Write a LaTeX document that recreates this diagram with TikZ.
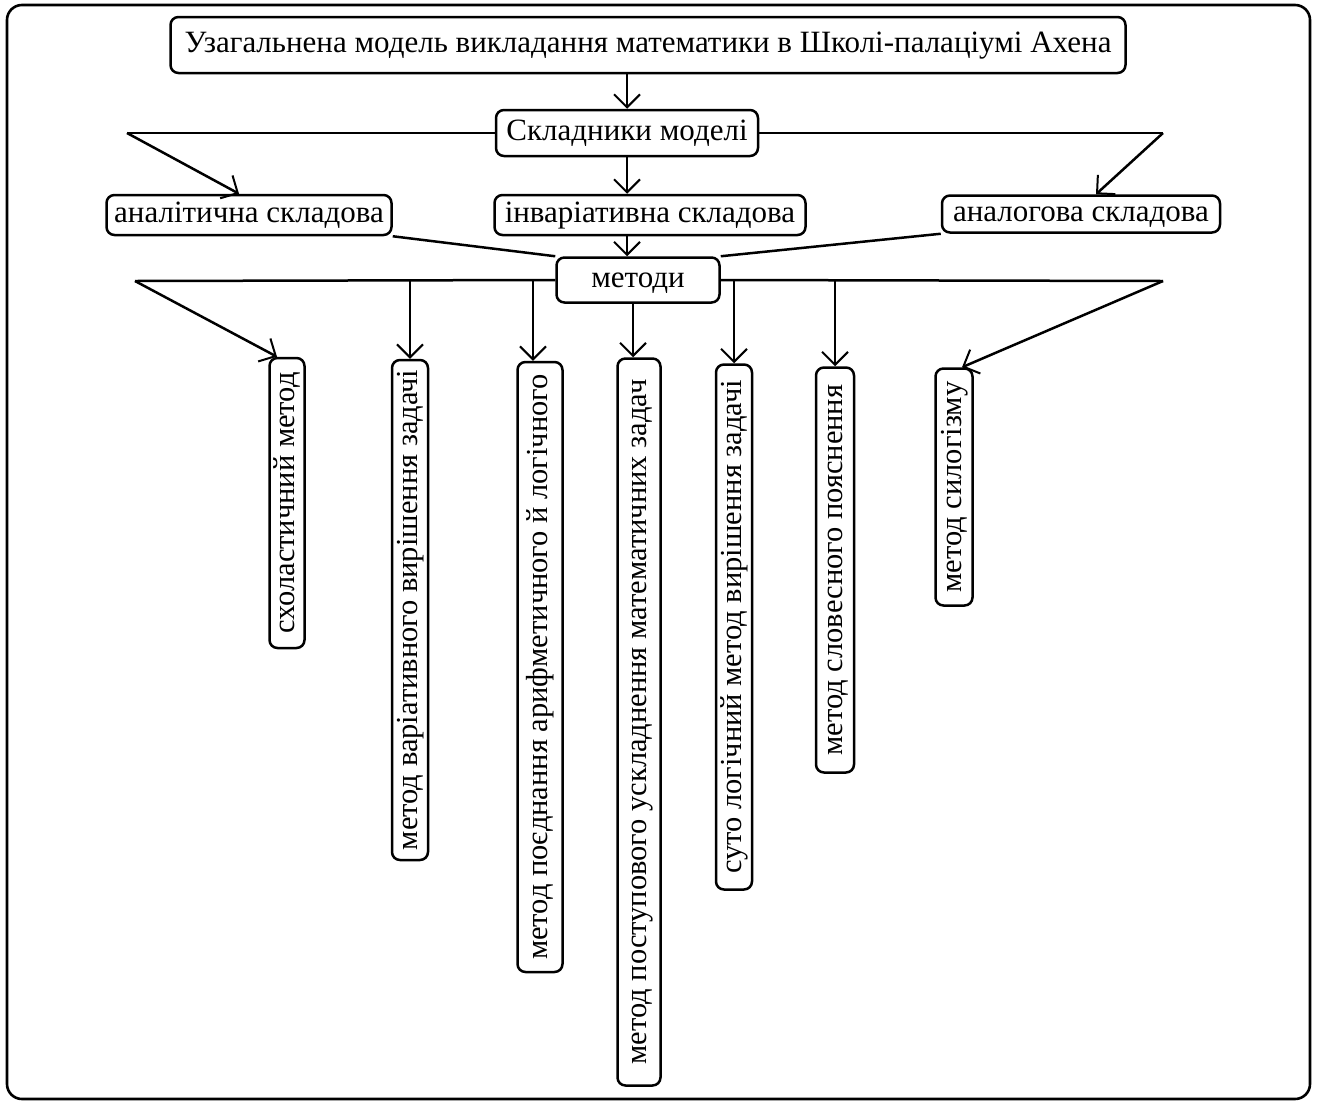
\documentclass[tikz,border=0pt]{standalone}
\usepackage{fontspec}
\setmainfont{Liberation Serif}
\usetikzlibrary{arrows.meta}
\begin{document}
\begin{tikzpicture}[x=1pt,y=-1pt,
  box/.style={draw,line width=2.5pt,rounded corners=8pt,inner sep=0pt,
    font=\fontsize{31}{35}\selectfont,anchor=center,
    text height=21pt,text depth=7pt},
  vbox/.style={box,rotate=90,font=\fontsize{30.5}{34}\selectfont},
  conn/.style={line width=2.5pt},
  arr/.style={conn,-{Straight Barb[length=13pt,width=26pt,line width=2pt]}}]
\useasboundingbox (0,0) rectangle (1317,1101);
\draw[line width=2.6pt,rounded corners=15pt] (7,5) rectangle (1310,1099);
% top level
\node[box,minimum width=955pt,minimum height=56pt] (title) at (648,45)
  {Узагальнена модель викладання математики в Школі-палаціумі Ахена};
\node[box,minimum width=262pt,minimum height=46pt] (skl) at (627,133)
  {Складники моделі};
\node[box,minimum width=285pt,minimum height=40pt] (anal) at (249,215)
  {аналітична складова};
\node[box,minimum width=311pt,minimum height=40pt] (inv) at (650,215)
  {інваріативна складова};
\node[box,minimum width=278pt,minimum height=37pt] (alog) at (1081,214)
  {аналогова складова};
\node[box,minimum width=163pt,minimum height=45pt] (met) at (638,280)
  {методи};
% vertical boxes
\node[vbox,minimum width=290pt,minimum height=35pt] (v1) at (287,503)
  {схоластичний метод};
\node[vbox,minimum width=500pt,minimum height=36pt] (v2) at (410,610)
  {метод варіативного вирішення задачі};
\node[vbox,minimum width=610pt,minimum height=45pt] (v3) at (540,667)
  {метод поєднання арифметичного й логічного};
\node[vbox,minimum width=727pt,minimum height=43pt] (v4) at (639,722)
  {метод поступового ускладнення математичних задач};
\node[vbox,minimum width=525pt,minimum height=36pt] (v5) at (734,627)
  {суто логічний метод вирішення задачі};
\node[vbox,minimum width=405pt,minimum height=38pt] (v6) at (835,570)
  {метод словесного пояснення};
\node[vbox,minimum width=237pt,minimum height=37pt] (v7) at (954,487)
  {метод силогізму};
% branch end points
\coordinate (SL) at (127,133);
\coordinate (SR) at (1163,133);
\coordinate (ML) at (135,281);
\coordinate (MR) at (1163,281);
% connectors
\draw[arr] (skl.north |- title.south) -- (skl.north);
\draw[conn] (skl.west) -- (SL);
\draw[arr] (SL) -- ([xshift=-10pt]anal.north);
\draw[conn] (skl.east) -- (SR);
\draw[arr] (SR) -- ([xshift=15pt]alog.north);
\draw[arr] (skl.south) -- (skl.south |- inv.north);
\draw[arr] (skl.south |- inv.south) -- (skl.south |- met.north);
\draw[conn] (anal.south east) -- (met.north west);
\draw[conn] (alog.south west) -- (met.north east);
\draw[conn] (met.west) -- (ML);
\draw[conn] (met.east) -- (MR);
\draw[arr] (ML) -- ([xshift=-10pt]v1.east);
\draw[arr] (v2.east |- ML) -- (v2.east);
\draw[arr] ([xshift=-7pt]v3.east |- ML) -- ([xshift=-7pt]v3.east);
\draw[arr] ([xshift=-6pt]v4.east |- met.south) -- ([xshift=-6pt]v4.east);
\draw[arr] (v5.east |- MR) -- (v5.east);
\draw[arr] (v6.east |- MR) -- (v6.east);
\draw[arr] (MR) -- ([xshift=8pt]v7.east);
\end{tikzpicture}
\end{document}
